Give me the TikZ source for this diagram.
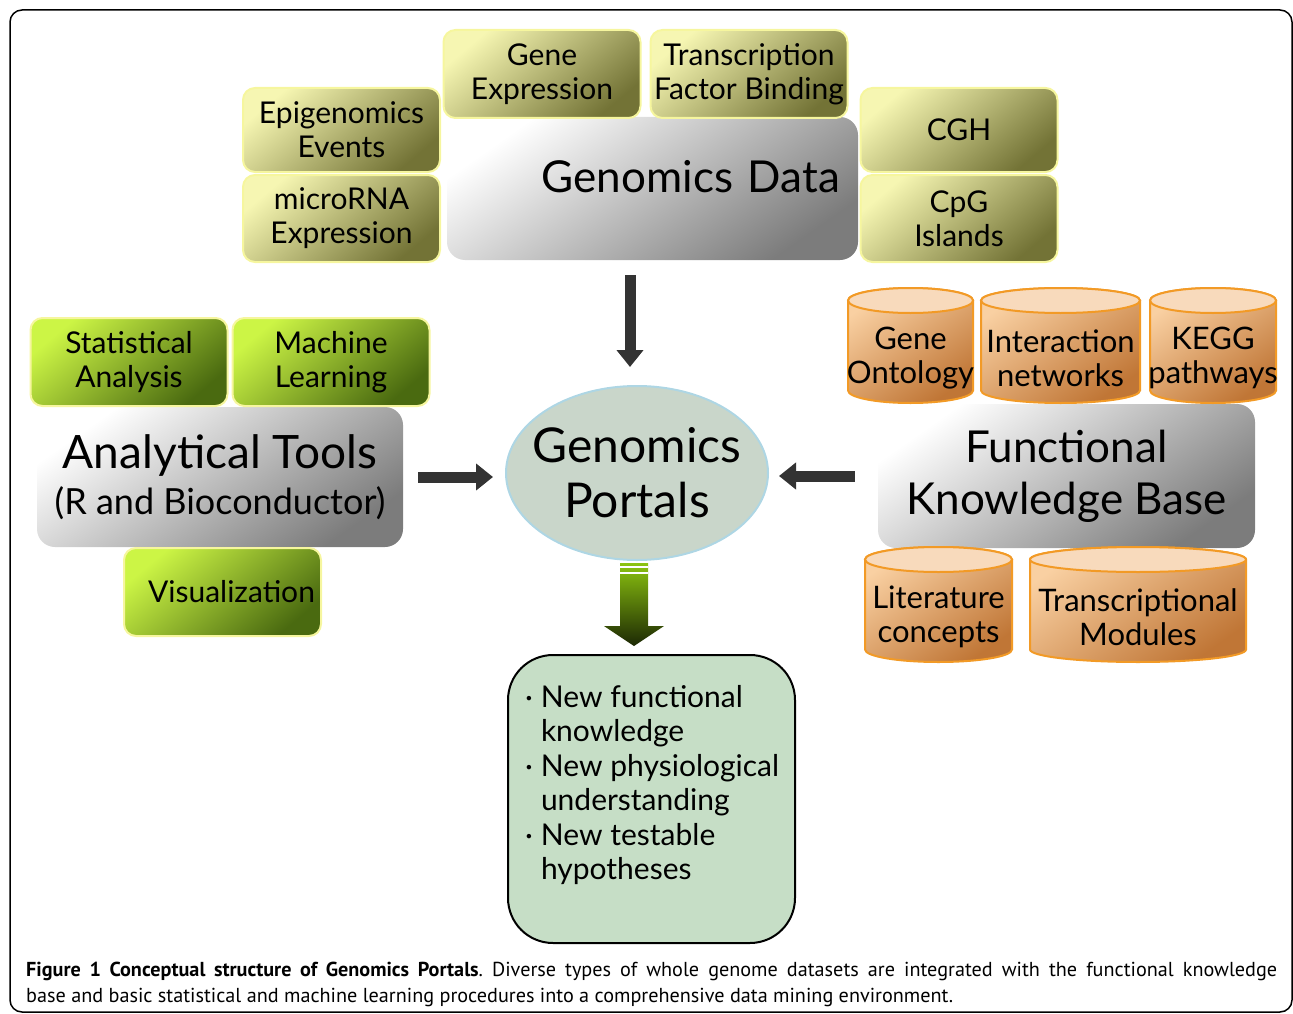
\documentclass[tikz,border=0pt]{standalone}
\usepackage{fontspec}
\setmainfont{Lato}
\newfontfamily\capfont{PT Sans}
\usetikzlibrary{shapes.geometric}
\usetikzlibrary{arrows.meta}
\usetikzlibrary{calc}
\frenchspacing

\definecolor{ylight}{HTML}{F6F6B2}
\definecolor{ydark}{HTML}{737336}
\definecolor{yedge}{HTML}{F6F69E}
\definecolor{glight}{HTML}{CCF545}
\definecolor{gdark}{HTML}{4A6A10}
\definecolor{graylight}{HTML}{FFFFFF}
\definecolor{graydark}{HTML}{7C7C7C}
\definecolor{olight}{HTML}{F9D0A2}
\definecolor{odark}{HTML}{C07636}
\definecolor{ocap}{HTML}{F8DABC}
\definecolor{oedge}{HTML}{F29A26}
\definecolor{portalfill}{HTML}{C9D6CA}
\definecolor{portaledge}{HTML}{AED6E4}
\definecolor{resultfill}{HTML}{C6DEC6}
\definecolor{arrowgray}{HTML}{333333}
\definecolor{arrowgreen}{HTML}{8CC410}
\definecolor{arrowdark}{HTML}{1C2804}

\tikzset{
  ybox/.style={rectangle, rounded corners=12, draw=yedge, line width=2,
    top color=ylight, bottom color=ydark, shading angle=40,
    minimum width=197, minimum height=86, align=center,
    font=\fontsize{30}{34}\selectfont},
  gbox/.style={ybox, top color=glight, bottom color=gdark, shading angle=40},
  graybox/.style={rectangle, rounded corners=18, top color=graylight,
    bottom color=graydark, shading angle=35, align=center},
  cylbody/.style={draw=oedge, line width=2, top color=olight,
    bottom color=odark, shading angle=35},
  cylcap/.style={draw=oedge, line width=2, fill=ocap},
  cyltext/.style={align=center, inner sep=0, font=\fontsize{31}{34}\selectfont},
  bigarrow/.style={draw=arrowgray, line width=11,
    -{Triangle[width=26pt,length=17pt]}},
}

% cylinder: name, cx, half width, top, bottom, text
\newcommand\dbcyl[6]{
  \path[cylbody] (#2-#3,#4+12.5) -- (#2-#3,#5-12.5)
    arc[start angle=180, end angle=360, x radius=#3pt, y radius=12.5pt]
    -- (#2+#3,#4+12.5)
    arc[start angle=0, end angle=180, x radius=#3pt, y radius=12.5pt] -- cycle;
  \path[cylcap] (#2,#4+12.5) ellipse[x radius=#3pt, y radius=12.5pt];
  \node[cyltext] (#1) at (#2,{(#4+25+#5)/2}) {#6};
}

\begin{document}
\begin{tikzpicture}[x=1pt,y=-1pt]
  \useasboundingbox (0,0) rectangle (1293,1014);
  \draw[line width=1.5, rounded corners=12] (10,10) rectangle (1292,1012);

  % main blocks
  \node[graybox, minimum height=143, inner xsep=18, text width=375, align=right,
    text depth=24, font=\fontsize{44}{48}\selectfont] (gd) at (652.5,188.5) {Genomics Data};
  \node[graybox, minimum width=366, minimum height=140,
    font=\fontsize{46}{50}\selectfont] (at) at (220,477)
    {Analytical Tools\\[-4pt]{\fontsize{36}{40}\selectfont (R and Bioconductor)}};
  \node[graybox, minimum width=377, minimum height=144,
    font=\fontsize{44}{52}\selectfont] (fkb) at (1066.5,476) {Functional\\Knowledge Base};

  % genomics data sources
  \node[ybox, minimum height=88] (ge) at (542,74) {Gene\\Expression};
  \node[ybox, minimum height=88] (tfb) at (749,74) {Transcription\\Factor Binding};
  \node[ybox, minimum height=84] (epi) at (341.5,130) {Epigenomics\\Events};
  \node[ybox, minimum height=87] (mir) at (341.5,218.5) {microRNA\\Expression};
  \node[ybox, minimum height=84] (cgh) at (959,130) {CGH};
  \node[ybox, minimum height=87] (cpg) at (959,218.5) {CpG\\Islands};

  % tools
  \node[gbox, minimum height=88] (stat) at (129,362) {Statistical\\Analysis};
  \node[gbox, minimum height=88] (ml) at (331,362) {Machine\\Learning};
  \node[gbox, minimum height=88] (vis) at (222.5,592) {\hspace*{18pt}Visualization};

  % knowledge sources
  \dbcyl{go}{910.5}{62.5}{288}{403}{Gene\\Ontology}
  \dbcyl{inet}{1060.5}{79.5}{288}{403}{Interaction\\networks}
  \dbcyl{kegg}{1213}{63}{288}{403}{KEGG\\pathways}
  \dbcyl{lit}{938.5}{73.5}{547}{662}{Literature\\concepts}
  \dbcyl{tm}{1138}{108}{547}{662}{Transcriptional\\Modules}

  % portal
  \node[ellipse, fill=portalfill, draw=portaledge, line width=2,
    minimum width=262, minimum height=174, inner xsep=-30pt, inner ysep=0,
    font=\fontsize{48}{55}\selectfont, align=center] (gp) at (637,473) {Genomics\\Portals};

  \draw[bigarrow, shorten <=15, shorten >=18] ($(gd.south -| gp.north)+(-7,0)$) -- ($(gp.north)+(-7,0)$);
  \draw[bigarrow, shorten <=15, shorten >=12] (at.east) -- (at.east -| gp.west);
  \draw[bigarrow, shorten <=23, shorten >=10] (fkb.west) -- (fkb.west -| gp.east);

  % results
  \node[rectangle, rounded corners=45, fill=resultfill, draw=black, line width=2,
    minimum width=287, minimum height=288] (rs) at (651.5,799) {};
  \node[anchor=north west, inner sep=0, align=left,
    font=\fontsize{30}{34.5}\selectfont] (rl) at ($(rs.north west)+(18,29)$)
    {\begin{tabular}{@{}l@{\hspace{8pt}}l@{}}
      ·&New functional\\ &knowledge\\
      ·&New physiological\\ &understanding\\
      ·&New testable\\ &hypotheses
    \end{tabular}};

  \coordinate (ga) at ($(gp.south)+(-3,2)$);
  \path[top color=arrowgreen, bottom color=arrowdark]
    ($(ga)+(-14,0)$) -- ($(ga)+(14,0)$) -- ($(ga)+(14,63)$) -- ($(ga)+(30,63)$)
    -- ($(ga |- rs.north)+(0,-8)$) -- ($(ga)+(-30,63)$) -- ($(ga)+(-14,63)$) -- cycle;
  \foreach \s in {4,10}
    \draw[white, line width=1.5] ($(ga)+(-14,\s)$) -- ($(ga)+(14,\s)$);

  % caption
  \node[anchor=base west, inner sep=0, font=\capfont\fontsize{20.2}{26}\selectfont] (cap1) at (26,976)
    {\makebox[1251pt][s]{\textbf{Figure 1 Conceptual structure of Genomics Portals}. Diverse types of whole genome datasets are integrated with the functional knowledge}};
  \node[anchor=base west, inner sep=0, font=\capfont\fontsize{20.2}{26}\selectfont] (cap2) at (26,1002)
    {base and basic statistical and machine learning procedures into a comprehensive data mining environment.};
\end{tikzpicture}
\end{document}
